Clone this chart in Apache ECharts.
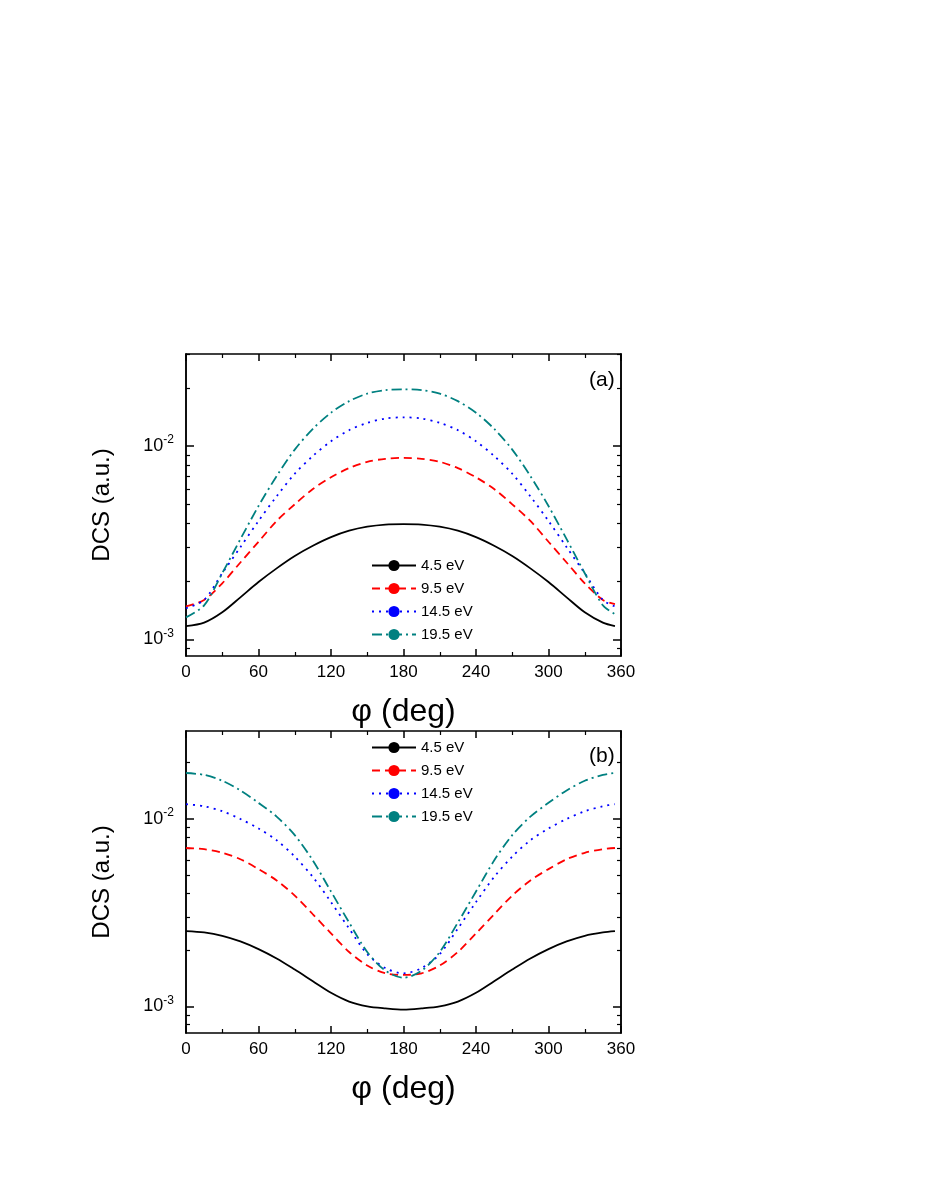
<!DOCTYPE html>
<html><head><meta charset="utf-8">
<script src="https://cdn.jsdelivr.net/npm/echarts@6/dist/echarts.min.js"></script>
<style>html,body{margin:0;padding:0;background:#fff}#c{width:926px;height:1199px}</style>
</head><body><div id="c"></div>
<script>
const phi = [0,15,30,45,60,75,90,105,120,135,150,165,180,195,210,225,240,255,270,285,300,315,330,345,355];
const seriesNames = ['4.5 eV','9.5 eV','14.5 eV','19.5 eV'];
// panel (a)
const a45 = [0.00117,0.00122,0.00138,0.00165,0.00198,0.00233,0.00270,0.00305,0.00338,0.00365,0.00383,0.00393,0.00395,0.00393,0.00383,0.00365,0.00338,0.00305,0.00270,0.00233,0.00198,0.00165,0.00138,0.00122,0.00117];
const a95 = [0.00148,0.00160,0.00195,0.00250,0.00320,0.00410,0.00500,0.00600,0.00690,0.00770,0.00830,0.00860,0.00870,0.00860,0.00830,0.00770,0.00690,0.00600,0.00500,0.00410,0.00320,0.00250,0.00195,0.00160,0.00152];
const a145 = [0.00145,0.00160,0.00220,0.00300,0.00410,0.00550,0.00720,0.00890,0.01060,0.01210,0.01320,0.01390,0.01410,0.01390,0.01320,0.01210,0.01060,0.00890,0.00720,0.00550,0.00410,0.00300,0.00220,0.00160,0.00148];
const a195 = [0.00130,0.00150,0.00220,0.00330,0.00490,0.00700,0.00960,0.01230,0.01490,0.01710,0.01870,0.01950,0.01970,0.01950,0.01870,0.01710,0.01490,0.01230,0.00960,0.00700,0.00490,0.00330,0.00220,0.00150,0.00135];
// panel (b)
const b45 = [0.00252,0.00248,0.00238,0.00222,0.00202,0.00180,0.00157,0.00136,0.00118,0.00106,0.00100,0.000975,0.00096,0.000975,0.00100,0.00106,0.00118,0.00136,0.00157,0.00180,0.00202,0.00222,0.00238,0.00248,0.00252];
const b95 = [0.0070,0.0069,0.0066,0.0061,0.0054,0.0047,0.0039,0.0031,0.00245,0.00195,0.00165,0.00150,0.00147,0.00150,0.00165,0.00195,0.00245,0.0031,0.0039,0.0047,0.0054,0.0061,0.0066,0.0069,0.0070];
const b145 = [0.0120,0.0117,0.0110,0.0100,0.0089,0.0077,0.0063,0.0049,0.0036,0.0026,0.0019,0.0016,0.0015,0.0016,0.0019,0.0026,0.0036,0.0049,0.0063,0.0077,0.0089,0.0100,0.0110,0.0117,0.0120];
const b195 = [0.0176,0.0172,0.0160,0.0142,0.0122,0.0103,0.0082,0.0060,0.0041,0.0028,0.00195,0.00155,0.00142,0.00155,0.00195,0.0028,0.0041,0.0060,0.0082,0.0103,0.0122,0.0142,0.0160,0.0172,0.0176];
const xTicks = [0,60,120,180,240,300,360];
const yMajor = [0.001,0.01];
const yMinor = [0.0007,0.0008,0.0009,0.002,0.003,0.004,0.005,0.006,0.007,0.008,0.009,0.02,0.03];

const colors = ['#000000','#ff0000','#0000ff','#008080'];
const types = ['solid',[8,5],[2,5],[10,4,2,4]];
const F = 'Liberation Sans, Arial, sans-serif';
const grids = [{left:186,top:354,width:435,height:302},{left:186,top:731,width:435,height:302}];
const yr = [[0.00082,0.030],[0.00072,0.0295]];
const xAxis=[], yAxis=[], series=[];
grids.forEach((g,i)=>{
  const line={lineStyle:{color:'#000',width:1.5}};
  xAxis.push({gridIndex:i,type:'value',min:0,max:360,interval:60,position:'bottom',
    name:'φ (deg)',nameLocation:'middle',nameGap:40,nameTextStyle:{fontFamily:F,fontSize:32,color:'#000'},
    axisLine:line,axisTick:{inside:true,length:7,lineStyle:{color:'#000',width:1.5}},
    minorTick:{show:true,splitNumber:2,length:4,lineStyle:{color:'#000',width:1.2}},
    axisLabel:{fontFamily:F,fontSize:17,color:'#000',margin:8,customValues:xTicks},splitLine:{show:false}});
  xAxis.push({gridIndex:i,type:'value',min:0,max:360,interval:60,position:'top',
    axisLine:line,axisTick:{inside:true,length:7,lineStyle:{color:'#000',width:1.5}},
    minorTick:{show:true,splitNumber:2,length:4,lineStyle:{color:'#000',width:1.2}},
    axisLabel:{show:false},splitLine:{show:false}});
  const yb={gridIndex:i,type:'log',min:yr[i][0],max:yr[i][1],splitLine:{show:false},axisLine:line};
  yAxis.push(Object.assign({},yb,{position:'left',name:'DCS (a.u.)',nameLocation:'middle',nameGap:72,
    nameTextStyle:{fontFamily:F,fontSize:24,color:'#000'},
    axisTick:{inside:true,length:8,customValues:yMajor,lineStyle:{color:'#000',width:1.5}},
    axisLabel:{customValues:yMajor,fontFamily:F,fontSize:18,color:'#000',margin:12,
      formatter:v=>'10{s|'+Math.round(Math.log10(v))+'}',rich:{s:{fontSize:12,verticalAlign:'top',padding:[0,0,12,0],fontFamily:F}}}}));
  yAxis.push(Object.assign({},yb,{position:'left',axisTick:{inside:true,length:4,customValues:yMinor,lineStyle:{color:'#000',width:1.2}},axisLabel:{show:false}}));
  yAxis.push(Object.assign({},yb,{position:'right',axisTick:{inside:true,length:8,customValues:yMajor,lineStyle:{color:'#000',width:1.5}},axisLabel:{show:false}}));
  yAxis.push(Object.assign({},yb,{position:'right',axisTick:{inside:true,length:4,customValues:yMinor,lineStyle:{color:'#000',width:1.2}},axisLabel:{show:false}}));
});
const dataSets=[[a45,a95,a145,a195],[b45,b95,b145,b195]];
dataSets.forEach((ds,i)=>{
  ds.forEach((arr,k)=>{
    series.push({type:'line',name:seriesNames[k],xAxisIndex:i*2,yAxisIndex:i*4,smooth:0.3,symbol:'none',
      data:phi.map((p,j)=>[p,arr[j]]),lineStyle:{color:colors[k],width:1.8,type:types[k]},itemStyle:{color:colors[k]}});
  });
});
function legendAt(top){return {orient:'vertical',left:366,top:top,itemWidth:44,itemHeight:14,itemGap:8,
  textStyle:{fontFamily:F,fontSize:15,color:'#000'},data:seriesNames.slice()};}
const chart=echarts.init(document.getElementById('c'));
chart.setOption({animation:false,backgroundColor:'#fff',grid:grids,xAxis,yAxis,series,
  legend:[legendAt(553),legendAt(735)],
  graphic:[{type:'text',left:589,top:370,style:{text:'(a)',font:'21px '+F,fill:'#000'}},
           {type:'text',left:589,top:746,style:{text:'(b)',font:'21px '+F,fill:'#000'}}]});
</script></body></html>
